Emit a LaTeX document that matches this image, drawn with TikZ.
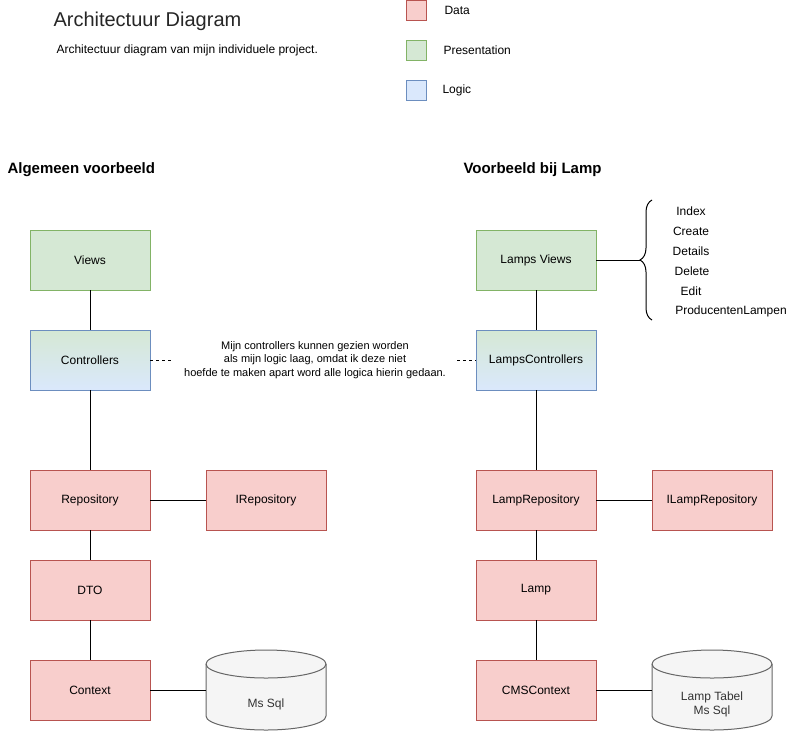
\documentclass[tikz,border=0pt]{standalone}
\usepackage{fontspec}
\setmainfont{Liberation Sans}
\usetikzlibrary{positioning,decorations.pathreplacing}
\definecolor{datafill}{HTML}{F8CECC}
\definecolor{dataline}{HTML}{B85450}
\definecolor{presfill}{HTML}{D5E8D4}
\definecolor{presline}{HTML}{82B366}
\definecolor{logicfill}{HTML}{DAE8FC}
\definecolor{logicline}{HTML}{6C8EBF}
\definecolor{dbfill}{HTML}{F5F5F5}
\definecolor{dbline}{HTML}{666666}
\definecolor{dbtext}{HTML}{333333}

\begin{document}
\begin{tikzpicture}[x=1pt,y=-1pt,line width=1pt,
    box/.style={rectangle,minimum width=120pt,minimum height=60pt,inner sep=0pt,outer sep=0pt,font=\fontsize{12}{14}\selectfont},
    data node/.style={box,draw=dataline,fill=datafill},
    pres node/.style={box,draw=presline,fill=presfill},
    logic node/.style={box,draw=logicline,top color=presfill,bottom color=logicfill},
    db node/.style={rectangle,minimum width=120pt,minimum height=80pt,inner sep=0pt,outer sep=0pt},
    db shape/.style={draw=dbline,fill=dbfill},
    db text/.style={font=\fontsize{12}{14}\selectfont,text=dbtext,align=center,inner sep=0pt},
    legend node/.style={rectangle,minimum size=20pt,inner sep=0pt},
    small text/.style={font=\fontsize{12}{14}\selectfont,inner sep=0pt}]
    \useasboundingbox (0,0) rectangle (797,731);

    % titel en legenda
    \node[anchor=west,inner sep=0pt,font=\fontsize{20}{24}\selectfont,text=black!85] (title) at (53,21) {Architectuur Diagram};
    \node[anchor=west,inner sep=0pt,font=\fontsize{12}{14}\selectfont] (subtitle) at (56,50) {Architectuur diagram van mijn individuele project.};

    \node[legend node,draw=dataline,fill=datafill] (dataleg) at (416,10) {};
    \node[legend node,draw=presline,fill=presfill] (presleg) at (416,50) {};
    \node[legend node,draw=logicline,fill=logicfill] (logicleg) at (416,90) {};
    \node[small text,anchor=west] (datalbl) at (444,10) {Data};
    \node[small text,anchor=west] (preslbl) at (443,50) {Presentation};
    \node[small text,anchor=west] (logiclbl) at (442,90) {Logic};

    % algemeen voorbeeld
    \node[anchor=west,inner sep=0pt,font=\fontsize{15}{18}\selectfont\bfseries] (algkop) at (7,170) {Algemeen voorbeeld};
    \node[pres node] (views) at (90,260) {Views};
    \node[logic node] (ctrl) [below=40pt of views] {Controllers};
    \node[data node] (repo) [below=80pt of ctrl] {Repository};
    \node[data node] (irepo) [right=56pt of repo] {IRepository};
    \node[data node] (dto) [below=30pt of repo] {DTO};
    \node[data node] (ctx) [below=40pt of dto] {Context};
    \node[db node] (mssql) [right=56pt of ctx] {};
    \draw[db shape] ([yshift=-14pt]mssql.north west) -- ([yshift=14pt]mssql.south west)
        arc[start angle=180,end angle=0,x radius=60,y radius=14] -- ([yshift=-14pt]mssql.north east)
        arc[start angle=0,end angle=-180,x radius=60,y radius=14] -- cycle;
    \draw[dbline] ([yshift=-14pt]mssql.north west) arc[start angle=180,end angle=0,x radius=60,y radius=14];
    \node[db text] (mssqltxt) at ([yshift=-14pt]mssql.center) {Ms Sql};

    % voorbeeld bij lamp
    \node[anchor=west,inner sep=0pt,font=\fontsize{15}{18}\selectfont\bfseries] (lampkop) at (463,170) {Voorbeeld bij Lamp};
    \node[pres node] (lviews) at (536,260) {Lamps Views};
    \node[logic node] (lctrl) [below=40pt of lviews] {LampsControllers};
    \node[data node] (lrepo) [below=80pt of lctrl] {LampRepository};
    \node[data node] (ilrepo) [right=56pt of lrepo] {ILampRepository};
    \node[data node] (lamp) [below=30pt of lrepo] {Lamp};
    \node[data node] (cmsctx) [below=40pt of lamp] {CMSContext};
    \node[db node] (lampdb) [right=56pt of cmsctx] {};
    \draw[db shape] ([yshift=-14pt]lampdb.north west) -- ([yshift=14pt]lampdb.south west)
        arc[start angle=180,end angle=0,x radius=60,y radius=14] -- ([yshift=-14pt]lampdb.north east)
        arc[start angle=0,end angle=-180,x radius=60,y radius=14] -- cycle;
    \draw[dbline] ([yshift=-14pt]lampdb.north west) arc[start angle=180,end angle=0,x radius=60,y radius=14];
    \node[db text] (lampdbtxt) at ([yshift=-14pt]lampdb.center) {Lamp Tabel\\Ms Sql};

    % acties van de views
    \draw[decorate,decoration={brace,amplitude=12pt}] (652,320) -- (652,200);
    \coordinate (bracetip) at (640,260);
    \node[small text] (index) at (691,211) {Index};
    \node[small text] (create) at (691,231) {Create};
    \node[small text] (details) at (691,251) {Details};
    \node[small text] (delete) at (692,271) {Delete};
    \node[small text] (edit) at (691,291) {Edit};
    \node[small text] (prodlampen) at (731,311) {ProducentenLampen};

    % uitleg controllers
    \node[inner sep=0pt,minimum width=283pt,align=center,font=\fontsize{11}{13.5}\selectfont] (note) at (315,360)
        {Mijn controllers kunnen gezien worden\\als mijn logic laag, omdat ik deze niet\\hoefde te maken apart word alle logica hierin gedaan.};

    \path
        (views) edge (ctrl)
        (ctrl) edge (repo)
        (repo) edge (irepo)
        (repo) edge (dto)
        (dto) edge (ctx)
        (ctx) edge (mssql)
        (lviews) edge (lctrl)
        (lctrl) edge (lrepo)
        (lrepo) edge (ilrepo)
        (lrepo) edge (lamp)
        (lamp) edge (cmsctx)
        (cmsctx) edge (lampdb)
        (lviews) edge (bracetip)
        ;
    \path[dash pattern=on 3pt off 3pt]
        (ctrl) edge (note)
        (note) edge (lctrl)
        ;
\end{tikzpicture}
\end{document}
